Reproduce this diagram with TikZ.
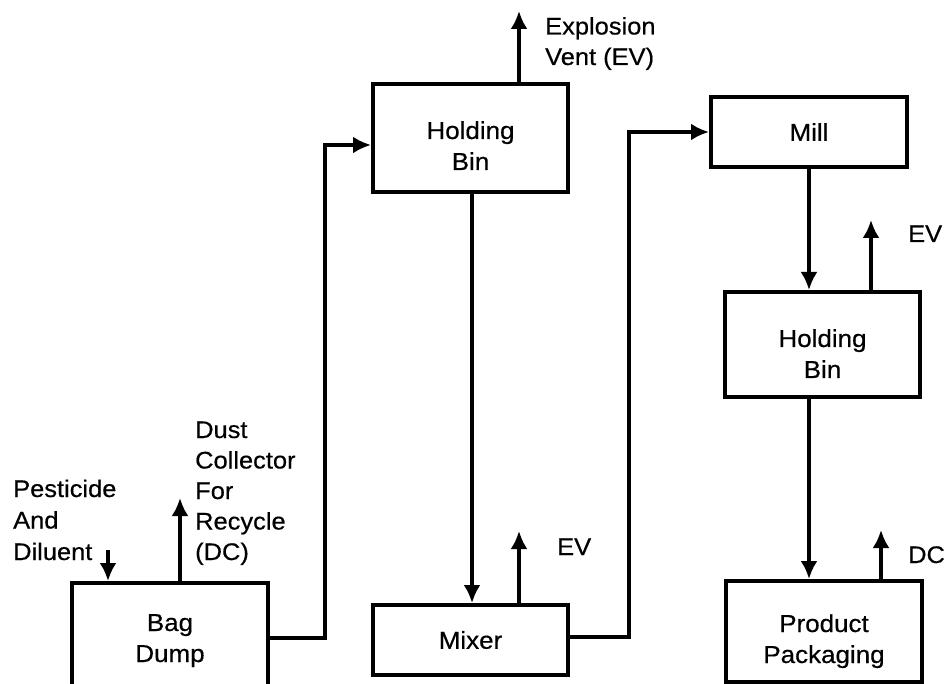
\documentclass[tikz,border=0pt]{standalone}
\usepackage{fontspec}
\setmainfont{Liberation Sans}[FakeStretch=1.06,FakeBold=0.5]
\usetikzlibrary{arrows.meta}
\tikzset{
  box/.style={draw, line width=4pt, rectangle, inner sep=0pt, align=center,
    font=\fontsize{24.5pt}{31pt}\selectfont},
  th/.style={text height=#1, text depth=0pt},
  lbl/.style={inner sep=0pt, align=left, font=\fontsize{24pt}{30.5pt}\selectfont},
  flow/.style={line width=3.4pt, -{Latex[length=18pt,width=17pt]}}
}
\begin{document}
\begin{tikzpicture}[x=1pt,y=-1pt]
\useasboundingbox (0,0) rectangle (948,684);
\clip (0,0) rectangle (948,684);
% boxes
\node[box, th=34pt, minimum width=196pt, minimum height=124pt] (bag) at (170,645) {Bag\\Dump};
\node[box, th=64pt, minimum width=195pt, minimum height=108pt] (hb1) at (470.5,138) {Holding\\Bin};
\node[box, minimum width=195pt, minimum height=70pt] (mix) at (470.5,640) {Mixer};
\node[box, minimum width=196pt, minimum height=70pt] (mill) at (809,132) {Mill};
\node[box, th=67pt, minimum width=195pt, minimum height=105pt] (hb2) at (822.5,344.5) {Holding\\Bin};
\node[box, th=63pt, minimum width=196pt, minimum height=101pt] (pp) at (824,631.5) {Product\\Packaging};
% labels
\node[lbl, anchor=base west, font=\fontsize{24pt}{31.5pt}\selectfont] (lpest) at (13,560) {Pesticide\\And\\Diluent};
\node[lbl, anchor=base west] (ldust) at (195,560) {Dust\\Collector\\For\\Recycle\\(DC)};
\node[lbl, anchor=base west] (lexp) at (545,65) {Explosion\\Vent (EV)};
\node[lbl, anchor=base west] (lev1) at (557,555) {EV};
\node[lbl, anchor=base west] (lev2) at (908,242) {EV};
\node[lbl, anchor=base west] (ldc) at (908,563) {DC};
% free ends
\coordinate (pin) at (108,550);
\coordinate (dcout) at (180,498);
\coordinate (expout) at (519,11);
\coordinate (ev1out) at (519,531);
\coordinate (ev2out) at (871,220);
\coordinate (dc2out) at (881,530);
\coordinate (bendA) at (325,638);
\coordinate (bendB) at (629,637);
% connectors
\draw[flow] (pin) -- (pin |- bag.north);
\draw[flow] (dcout |- bag.north) -- (dcout);
\draw[flow] (expout |- hb1.north) -- (expout);
\draw[flow] (ev1out |- mix.north) -- (ev1out);
\draw[flow] (ev2out |- hb2.north) -- (ev2out);
\draw[flow] (dc2out |- pp.north) -- (dc2out);
\draw[flow] (bag.east |- bendA) -- (bendA) -- (bendA |- 0,145) -- (hb1.west |- 0,145);
\draw[flow] (mix.east |- bendB) -- (bendB) -- (bendB |- mill.west) -- (mill.west);
\draw[flow] (472,0 |- hb1.south) -- (472,0 |- mix.north);
\draw[flow] (mill.south) -- (mill.south |- hb2.north);
\draw[flow] (mill.south |- hb2.south) -- (mill.south |- pp.north);
\end{tikzpicture}
\end{document}
